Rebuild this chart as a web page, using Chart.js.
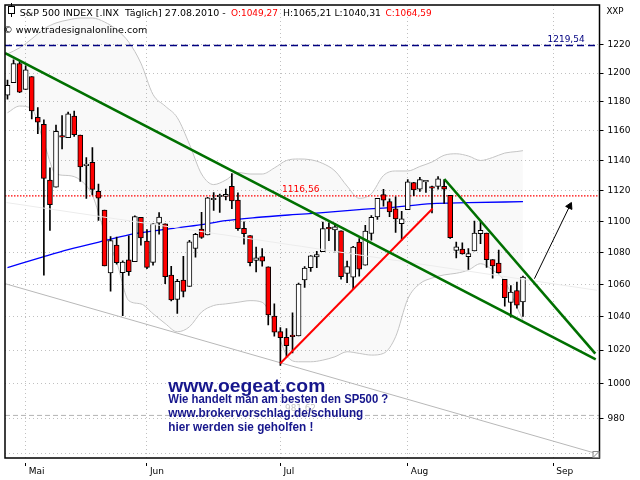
<!DOCTYPE html>
<html>
<head>
<meta charset="utf-8">
<title>S&amp;P 500 INDEX</title>
<script src="https://cdn.jsdelivr.net/npm/chart.js@4.4.1/dist/chart.umd.min.js"></script>
<style>
html,body{margin:0;padding:0;background:#fff;overflow:hidden}
canvas{display:block}
</style>
</head>
<body>
<canvas id="chart" width="640" height="480"></canvas>
<script>
// ---------------- DATA ----------------
const dates = ['28.04','29.04','30.04','03.05','04.05','05.05','06.05','07.05','10.05','11.05','12.05','13.05','14.05','17.05','18.05','19.05','20.05','21.05','24.05','25.05','26.05','27.05','28.05','01.06','02.06','03.06','04.06','07.06','08.06','09.06','10.06','11.06','14.06','15.06','16.06','17.06','18.06','21.06','22.06','23.06','24.06','25.06','28.06','29.06','30.06','01.07','02.07','06.07','07.07','08.07','09.07','12.07','13.07','14.07','15.07','16.07','19.07','20.07','21.07','22.07','23.07','26.07','27.07','28.07','29.07','30.07','02.08','03.08','04.08','05.08','06.08','09.08','10.08','11.08','12.08','13.08','16.08','17.08','18.08','19.08','20.08','23.08','24.08','25.08','26.08','27.08'];

const opens = [1184.59,1193.30,1206.77,1188.58,1197.50,1169.24,1164.38,1127.04,1122.27,1156.39,
  1155.43,1170.04,1157.19,1136.52,1138.78,1119.57,1107.34,1067.26,1084.78,1067.42,
  1075.51,1074.27,1102.59,1087.30,1073.89,1098.82,1098.43,1065.84,1050.81,1062.75,
  1058.77,1082.65,1095.00,1091.21,1114.02,1115.98,1116.16,1122.79,1113.90,1095.57,
  1090.93,1075.10,1077.50,1071.10,1040.56,1031.10,1027.65,1028.09,1028.54,1062.92,
  1070.50,1077.23,1080.65,1095.61,1094.46,1093.85,1066.85,1064.53,1086.67,1072.14,
  1092.17,1102.89,1117.36,1112.84,1108.07,1098.44,1107.53,1125.34,1121.06,1125.78,
  1122.07,1122.80,1122.92,1116.89,1081.48,1082.22,1077.49,1081.16,1092.08,1092.44,
  1075.63,1073.36,1063.20,1048.98,1056.28,1049.27];
const highs = [1195.05,1209.36,1207.99,1205.13,1197.50,1175.95,1167.58,1135.13,1163.85,1170.48,
  1172.87,1173.57,1157.19,1141.88,1148.66,1124.27,1107.34,1090.16,1089.95,1074.75,
  1090.75,1103.52,1102.59,1094.77,1098.56,1105.67,1098.43,1071.36,1063.15,1077.74,
  1087.85,1092.25,1105.91,1115.59,1118.74,1117.72,1121.01,1131.23,1118.50,1099.64,
  1090.93,1083.56,1082.60,1071.10,1048.08,1033.58,1032.95,1042.50,1060.89,1071.25,
  1078.16,1080.78,1099.46,1099.08,1098.66,1093.85,1074.70,1083.94,1088.96,1097.50,
  1103.73,1115.01,1120.95,1114.66,1115.90,1106.44,1127.30,1125.44,1128.75,1126.56,
  1123.06,1129.24,1127.16,1116.89,1086.72,1086.25,1082.62,1100.14,1099.77,1092.44,
  1075.63,1081.58,1063.20,1059.38,1061.45,1065.21];
const lows = [1181.81,1193.30,1186.32,1188.58,1168.12,1158.15,1065.79,1094.15,1122.27,1147.71,
  1155.43,1156.14,1126.14,1114.96,1117.20,1100.66,1071.58,1055.90,1072.70,1040.78,
  1065.59,1074.27,1084.78,1069.89,1072.03,1091.81,1060.50,1049.86,1042.17,1052.25,
  1058.77,1077.12,1089.03,1091.21,1107.13,1105.87,1113.93,1108.24,1094.18,1085.31,
  1071.60,1067.89,1071.45,1035.18,1028.33,1010.91,1015.93,1018.35,1028.54,1058.24,
  1068.10,1070.45,1080.65,1087.68,1080.53,1063.32,1061.11,1056.88,1065.25,1072.14,
  1087.88,1101.30,1109.78,1103.11,1092.82,1088.01,1107.53,1116.76,1119.46,1118.81,
  1105.44,1120.91,1111.58,1088.99,1076.69,1079.00,1069.49,1081.16,1085.76,1070.66,
  1063.91,1067.08,1046.68,1039.83,1045.40,1040.31];
const closes = [1191.36,1206.78,1186.69,1202.26,1173.60,1165.87,1128.15,1110.88,1159.73,1155.79,
  1171.67,1157.44,1135.68,1136.94,1120.80,1115.05,1071.59,1087.69,1073.65,1074.03,
  1067.95,1103.06,1089.41,1070.71,1098.38,1102.83,1064.88,1050.47,1062.00,1055.69,
  1086.84,1091.60,1089.63,1115.23,1114.61,1116.04,1117.51,1113.20,1095.31,1092.04,
  1073.69,1076.76,1074.57,1041.24,1030.71,1027.37,1022.58,1028.06,1060.27,1070.25,
  1077.96,1078.75,1095.34,1095.17,1096.48,1064.88,1071.25,1083.48,1069.59,1093.67,
  1102.66,1115.01,1113.84,1106.13,1101.53,1101.60,1125.86,1120.46,1127.24,1125.81,
  1121.64,1127.79,1121.06,1089.47,1083.61,1079.25,1079.38,1092.54,1094.16,1075.63,
  1071.69,1067.36,1051.87,1055.33,1047.22,1064.59];

// month tick slots (Sep = first future calendar day slot)
const monthTickIdx = [3, 23, 45, 66, 90];
const monthLabels = ['Mai', 'Jun', 'Jul', 'Aug', 'Sep'];
const priceTicks = [960, 980, 1000, 1020, 1040, 1060, 1080, 1100, 1120, 1140, 1160, 1180, 1200, 1220];

// long moving average (blue)
const maIdx = [0, 6, 10, 16, 21, 27, 32, 36, 41, 47, 52, 58, 63, 70, 76, 85];
const maVal = [1070.6, 1077.5, 1081.9, 1087.6, 1092.1, 1095.3, 1097.9, 1100.5, 1102.5, 1104.3, 1105.6, 1107.6, 1108.9, 1111.5, 1112.1, 1112.8];

// Bollinger bands (read at these slots)
const bandIdx = [0,2,4,6,8,10,12,14,16,18,20,22,24,26,28,30,32,34,36,38,40,42,44,46,48,50,52,54,56,58,60,62,64,66,68,70,72,74,76,78,80,82,84,85];
const bandUpper = [1213.6,1217.9,1224.3,1231.5,1235.8,1238.0,1239.4,1239.4,1236.5,1231.0,1222.0,1207.0,1185.0,1177.0,1169.0,1151.0,1131.0,1124.0,1127.0,1132.0,1131.0,1131.0,1135.0,1140.0,1141.0,1140.5,1138.0,1133.0,1123.0,1115.0,1118.0,1130.0,1133.0,1133.0,1136.0,1139.0,1143.5,1144.5,1143.0,1140.0,1142.0,1145.0,1146.0,1146.6];
const bandLower = [1172.4,1177.0,1175.0,1152.0,1131.0,1130.0,1127.0,1117.0,1093.0,1074.0,1050.0,1048.0,1042.0,1036.0,1031.0,1034.0,1043.0,1047.0,1048.0,1049.0,1050.0,1049.0,1036.0,1017.0,1013.0,1013.0,1014.0,1016.0,1019.0,1018.0,1017.0,1018.0,1028.0,1051.0,1060.5,1064.0,1066.0,1067.0,1069.0,1073.0,1069.0,1062.0,1046.0,1038.0];

// drawn trend lines (slot, price) pairs
const greenLongIdx = [-0.38, 97.0];   const greenLongVal = [1214.1, 1014.4];
const greenSteepIdx = [72.03, 96.93]; const greenSteepVal = [1127.7, 1017.9];
const redTrendIdx = [44.97, 70.11];   const redTrendVal = [1012.0, 1108.3];
const grayLineIdx = [-0.38, 96.6];    const grayLineVal = [1060.5, 960.4];
const faintLineIdx = [-0.16, 97.2];   const faintLineVal = [1112.2, 1056.4];
const arrowIdx = [86.89, 92.7];       const arrowVal = [1063.6, 1109.9];

// horizontal levels
const levelBlue = 1219.54;
const levelRed = 1116.56;
const levelGray = 981.62;

// axis range
const xMin = -0.41, xMax = 97.62;
const yMin = 957.4, yMax = 1248.9;

// ---------------- HELPERS ----------------
const pts = (xs, ys) => xs.map((v, k) => ({ x: v, y: ys[k] }));
const hline = v => [{ x: xMin, y: v }, { x: xMax, y: v }];
const NAVY = '#16168c';

function fitText(ctx, txt, x, y, w, font, color, align) {
  ctx.font = font;
  ctx.fillStyle = color;
  ctx.textBaseline = 'alphabetic';
  ctx.textAlign = 'left';
  const m = ctx.measureText(txt).width;
  const sx = w / m;
  ctx.save();
  ctx.translate(align === 'right' ? x - w : x, y);
  ctx.scale(sx, 1);
  ctx.fillText(txt, 0, 0);
  ctx.restore();
}

const overlay = {
  id: 'overlay',
  afterDraw(chart) {
    const { ctx, chartArea: a, scales } = chart;
    const ys = scales.y;
    ctx.save();
    // frame
    ctx.strokeStyle = '#000';
    ctx.lineWidth = 1.5;
    ctx.strokeRect(a.left, a.top, a.right - a.left, a.bottom - a.top);
    // little corner box
    ctx.lineWidth = 1;
    ctx.strokeStyle = '#888';
    ctx.fillStyle = '#fff';
    ctx.fillRect(a.right - 6, a.bottom - 6, 5, 5);
    ctx.strokeRect(a.right - 6.5, a.bottom - 6.5, 6, 6);
    ctx.beginPath(); ctx.moveTo(a.right - 6, a.bottom - 1); ctx.lineTo(a.right - 1, a.bottom - 6); ctx.stroke();

    // header candle icon
    ctx.strokeStyle = '#000';
    ctx.beginPath(); ctx.moveTo(11.5, 3); ctx.lineTo(11.5, 17); ctx.stroke();
    ctx.fillStyle = '#fff';
    ctx.fillRect(8.5, 6.5, 6, 7);
    ctx.strokeRect(8.5, 6.5, 6, 7);

    const hf = '9px "DejaVu Sans"';
    fitText(ctx, 'S&P 500 INDEX [.INX  Täglich] 27.08.2010 -', 19.7, 15.5, 206, hf, '#000');
    fitText(ctx, 'O:1049,27', 231, 15.5, 47, hf, '#ff0000');
    fitText(ctx, 'H:1065,21 L:1040,31', 283, 15.5, 98, hf, '#000');
    fitText(ctx, 'C:1064,59', 385.6, 15.5, 46, hf, '#ff0000');
    fitText(ctx, '© www.tradesignalonline.com', 3.3, 32.5, 144, hf, '#000');
    fitText(ctx, 'XXP', 606.4, 13.5, 17.2, hf, '#000');

    // level labels
    fitText(ctx, '1219,54', 584.6, ys.getPixelForValue(levelBlue) - 4, 37, hf, '#000080', 'right');
    fitText(ctx, '1116,56', 282, ys.getPixelForValue(levelRed) - 4.3, 37.5, hf, '#ff0000');
    fitText(ctx, '981,62', 285, ys.getPixelForValue(levelGray) - 4.5, 31, hf, '#c4c4c4');

    // advertisement text
    fitText(ctx, 'www.oegeat.com', 168.3, 392, 157, 'bold 19px "Liberation Sans"', NAVY);
    fitText(ctx, 'Wie handelt man am besten den SP500 ?', 168.3, 402.7, 220, 'bold 12px "Liberation Sans"', NAVY);
    fitText(ctx, 'www.brokervorschlag.de/schulung', 168.3, 416.7, 195, 'bold 12px "Liberation Sans"', NAVY);
    fitText(ctx, 'hier werden sie geholfen !', 168.3, 430.7, 145, 'bold 12px "Liberation Sans"', NAVY);
    ctx.restore();
  }
};

// ---------------- DATASETS ----------------
const lineBase = { type: 'line', pointRadius: 0, fill: false, borderCapStyle: 'butt' };
const datasets = [
  Object.assign({}, lineBase, { label: 'BB oben', data: pts(bandIdx, bandUpper), borderColor: '#c4c4c4', borderWidth: 1, fill: '+1', backgroundColor: 'rgba(0,0,0,0.025)', cubicInterpolationMode: 'monotone', order: 30 }),
  Object.assign({}, lineBase, { label: 'BB unten', data: pts(bandIdx, bandLower), borderColor: '#c4c4c4', borderWidth: 1, cubicInterpolationMode: 'monotone', order: 30 }),
  Object.assign({}, lineBase, { label: 'Linie grau', data: pts(grayLineIdx, grayLineVal), borderColor: '#b8b8b8', borderWidth: 1, order: 25 }),
  Object.assign({}, lineBase, { label: '1219,54', data: hline(levelBlue), borderColor: '#000080', borderWidth: 1.5, borderDash: [7, 4], order: 24 }),
  Object.assign({}, lineBase, { label: '1116,56', data: hline(levelRed), borderColor: '#ff0000', borderWidth: 1.3, borderDash: [1.5, 1.5], order: 24 }),
  Object.assign({}, lineBase, { label: '981,62', data: hline(levelGray), borderColor: '#b4b4b4', borderWidth: 1, borderDash: [5, 3], order: 24 }),
  Object.assign({}, lineBase, { label: 'MA', data: pts(maIdx, maVal), borderColor: '#0000ff', borderWidth: 1.3, cubicInterpolationMode: 'monotone', order: 22 }),
  { type: 'bar', label: 'Docht', data: opens.map((o, i) => ({ x: i, y: [lows[i], highs[i]] })), backgroundColor: '#000', borderWidth: 0, grouped: false, barPercentage: 1, categoryPercentage: 1, maxBarThickness: 1, order: 20 },
  { type: 'bar', label: 'Körper', data: opens.map((o, i) => ({ x: i, y: [Math.min(o, closes[i]), Math.max(o, closes[i])] })), backgroundColor: opens.map((o, i) => closes[i] < o ? '#ff0000' : '#ffffff'), borderColor: '#000', borderWidth: 1, borderSkipped: false, grouped: false, barPercentage: 1, categoryPercentage: 1, maxBarThickness: 5, minBarLength: 1.5, order: 19 },
  Object.assign({}, lineBase, { label: 'Linie hell', data: pts(faintLineIdx, faintLineVal), borderColor: '#ececec', borderWidth: 1, order: 18 }),
  Object.assign({}, lineBase, { label: 'Trend lang', data: pts(greenLongIdx, greenLongVal), borderColor: '#007000', borderWidth: 2.6, order: 10 }),
  Object.assign({}, lineBase, { label: 'Trend steil', data: pts(greenSteepIdx, greenSteepVal), borderColor: '#007000', borderWidth: 2.6, order: 10 }),
  Object.assign({}, lineBase, { label: 'Trend rot', data: pts(redTrendIdx, redTrendVal), borderColor: '#ff0000', borderWidth: 2, order: 10 }),
  Object.assign({}, lineBase, { label: 'Pfeil', data: pts(arrowIdx, arrowVal), borderColor: '#000', borderWidth: 1, pointRadius: [0, 4], pointStyle: 'triangle', pointRotation: [0, 26], pointBackgroundColor: '#000', pointBorderColor: '#000', pointBorderWidth: 1, order: 5 })
];

// ---------------- CHART ----------------
new Chart(document.getElementById('chart'), {
  type: 'bar',
  data: { labels: dates, datasets },
  plugins: [overlay],
  options: {
    responsive: false,
    animation: false,
    devicePixelRatio: 1,
    events: [],
    layout: { padding: { left: 1.5, top: 4, right: 0, bottom: 0 } },
    plugins: { legend: { display: false }, tooltip: { enabled: false }, filler: { drawTime: 'beforeDatasetsDraw' } },
    scales: {
      x: {
        type: 'linear', min: xMin, max: xMax, offset: false,
        grid: { offset: false, color: '#c0c0c0', lineWidth: 1, drawTicks: true, tickLength: 8, tickColor: '#000', tickWidth: 1, tickBorderDash: [0, 5, 3, 30] },
        border: { display: false, dash: [1, 3] },
        ticks: { autoSkip: false, maxRotation: 0, align: 'start', labelOffset: 3, padding: 0, color: '#000', font: { family: 'DejaVu Sans', size: 9 },
          callback: (v, i) => monthLabels[i] },
        afterBuildTicks: s => { s.ticks = monthTickIdx.map(v => ({ value: v })); },
        afterFit: s => { s.height = 22; s.paddingLeft = 0; s.paddingRight = 0; }
      },
      y: {
        type: 'logarithmic', position: 'right', min: yMin, max: yMax, bounds: 'data',
        grid: { color: '#c0c0c0', lineWidth: 1, tickLength: 4, tickWidth: 1, tickBorderDash: [],
          tickColor: c => (c.tick && c.tick.value < 970) ? 'rgba(0,0,0,0)' : '#000' },
        border: { display: false, dash: [1, 3] },
        ticks: { autoSkip: false, padding: 4, color: '#000', font: { family: 'DejaVu Sans', size: 9 },
          callback: v => v < 970 ? '' : String(v) },
        afterBuildTicks: s => { s.ticks = priceTicks.map(v => ({ value: v })); },
        afterFit: s => { s.width = 40.5; s.paddingTop = 0; s.paddingBottom = 0; }
      }
    }
  }
});
</script>
</body>
</html>
